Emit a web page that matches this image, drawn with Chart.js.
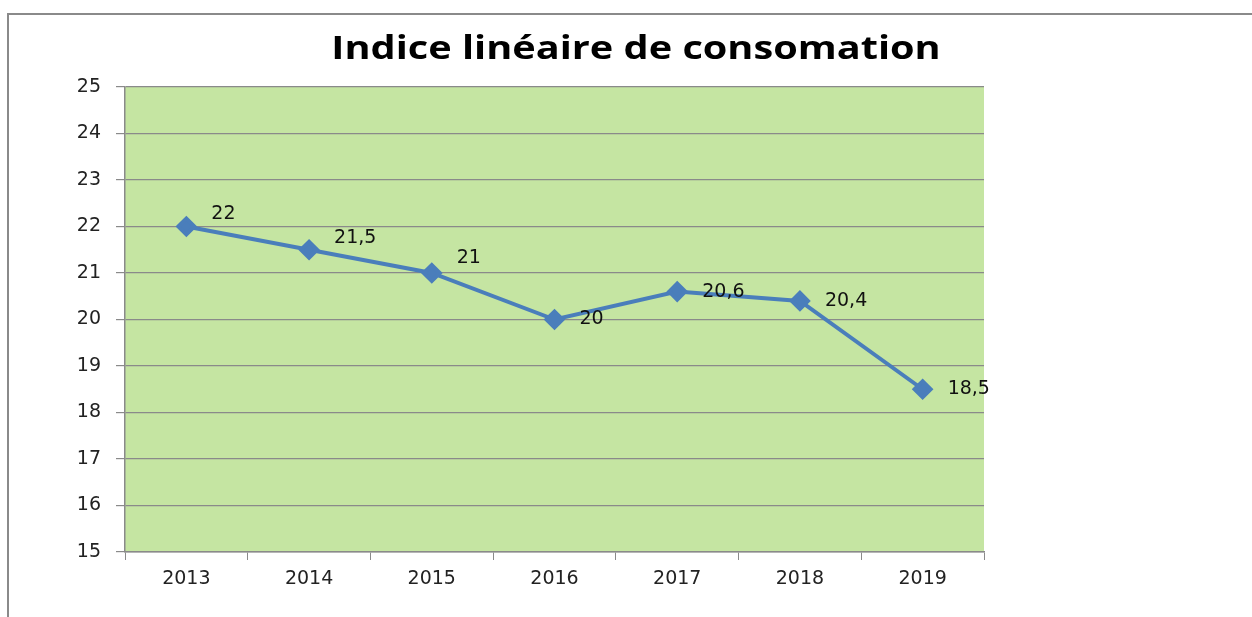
<!DOCTYPE html>
<html>
<head>
<meta charset="utf-8">
<script src="https://cdn.jsdelivr.net/npm/chart.js@4/dist/chart.umd.min.js"></script>
<style>
  html, body { margin: 0; padding: 0; background: #fff; }
  #wrap { width: 1252px; height: 617px; }
</style>
</head>
<body>
<div id="wrap"><canvas id="chart" width="1252" height="617"></canvas></div>
<script>
const years = ['2013', '2014', '2015', '2016', '2017', '2018', '2019'];
const indice = [22, 21.5, 21, 20, 20.6, 20.4, 18.5];
const yMin = 15;
const yMax = 25;

const chartTitle = 'Indice linéaire de consomation';
const tickFont = { family: 'DejaVu Sans', size: 19 };
// vertical lift of each value label (Excel placed the first three higher)
const labelLift = [12, 12, 15, 0, 0, 0, 0];

const frameAndBack = {
  id: 'frameAndBack',
  beforeDraw(chart) {
    const { ctx, chartArea: a } = chart;
    ctx.save();
    ctx.fillStyle = '#c5e5a2';
    ctx.fillRect(a.left, a.top, a.right - a.left, a.bottom - a.top);
    // outer chart frame
    ctx.strokeStyle = '#8a8a8a';
    ctx.lineWidth = 2;
    ctx.beginPath();
    ctx.moveTo(8, 617);
    ctx.lineTo(8, 14);
    ctx.lineTo(1252, 14);
    ctx.stroke();
    ctx.restore();
  },
  afterDraw(chart) {
    const { ctx } = chart;
    ctx.save();
    // title, stretched a bit wider like the original
    ctx.translate(636, 50);
    ctx.scale(1.24, 1);
    ctx.font = 'bold 32px "Open Sans"';
    ctx.fillStyle = '#000';
    ctx.textAlign = 'center';
    ctx.textBaseline = 'middle';
    ctx.fillText(chartTitle, 0, 0);
    ctx.restore();

    ctx.save();
    const meta = chart.getDatasetMeta(0);
    ctx.font = '19px "DejaVu Sans"';
    ctx.fillStyle = '#111';
    ctx.textAlign = 'left';
    ctx.textBaseline = 'middle';
    meta.data.forEach((pt, i) => {
      const txt = String(indice[i]).replace('.', ',');
      ctx.fillText(txt, pt.x + 25, pt.y - labelLift[i]);
    });
    ctx.restore();
  }
};

new Chart(document.getElementById('chart'), {
  type: 'line',
  data: {
    labels: years,
    datasets: [{
      data: indice,
      borderColor: '#4a7ebb',
      backgroundColor: '#4a7ebb',
      borderWidth: 4,
      pointStyle: 'rectRot',
      pointRadius: 8,
      pointHoverRadius: 8,
      tension: 0
    }]
  },
  options: {
    responsive: false,
    animation: false,
    layout: { padding: { top: 87, right: 268, left: 0, bottom: 0 } },
    plugins: {
      legend: { display: false },
      title: { display: false },
      tooltip: { enabled: false }
    },
    scales: {
      x: {
        offset: true,
        grid: {
          offset: true,
          drawOnChartArea: false,
          drawTicks: true,
          tickLength: 8,
          color: '#8a8a8a'
        },
        border: { color: '#8a8a8a', width: 1.5 },
        ticks: { font: tickFont, color: '#222', padding: 8 },
        afterFit(scale) { scale.height = 65; }
      },
      y: {
        min: yMin,
        max: yMax,
        grid: {
          color: '#8a8a8a',
          lineWidth: 1.2,
          tickLength: 9
        },
        border: { color: '#8a8a8a', width: 1.5 },
        ticks: { stepSize: 1, font: tickFont, color: '#222', padding: 15 },
        afterFit(scale) { scale.width = 125; }
      }
    }
  },
  plugins: [frameAndBack]
});
</script>
</body>
</html>
